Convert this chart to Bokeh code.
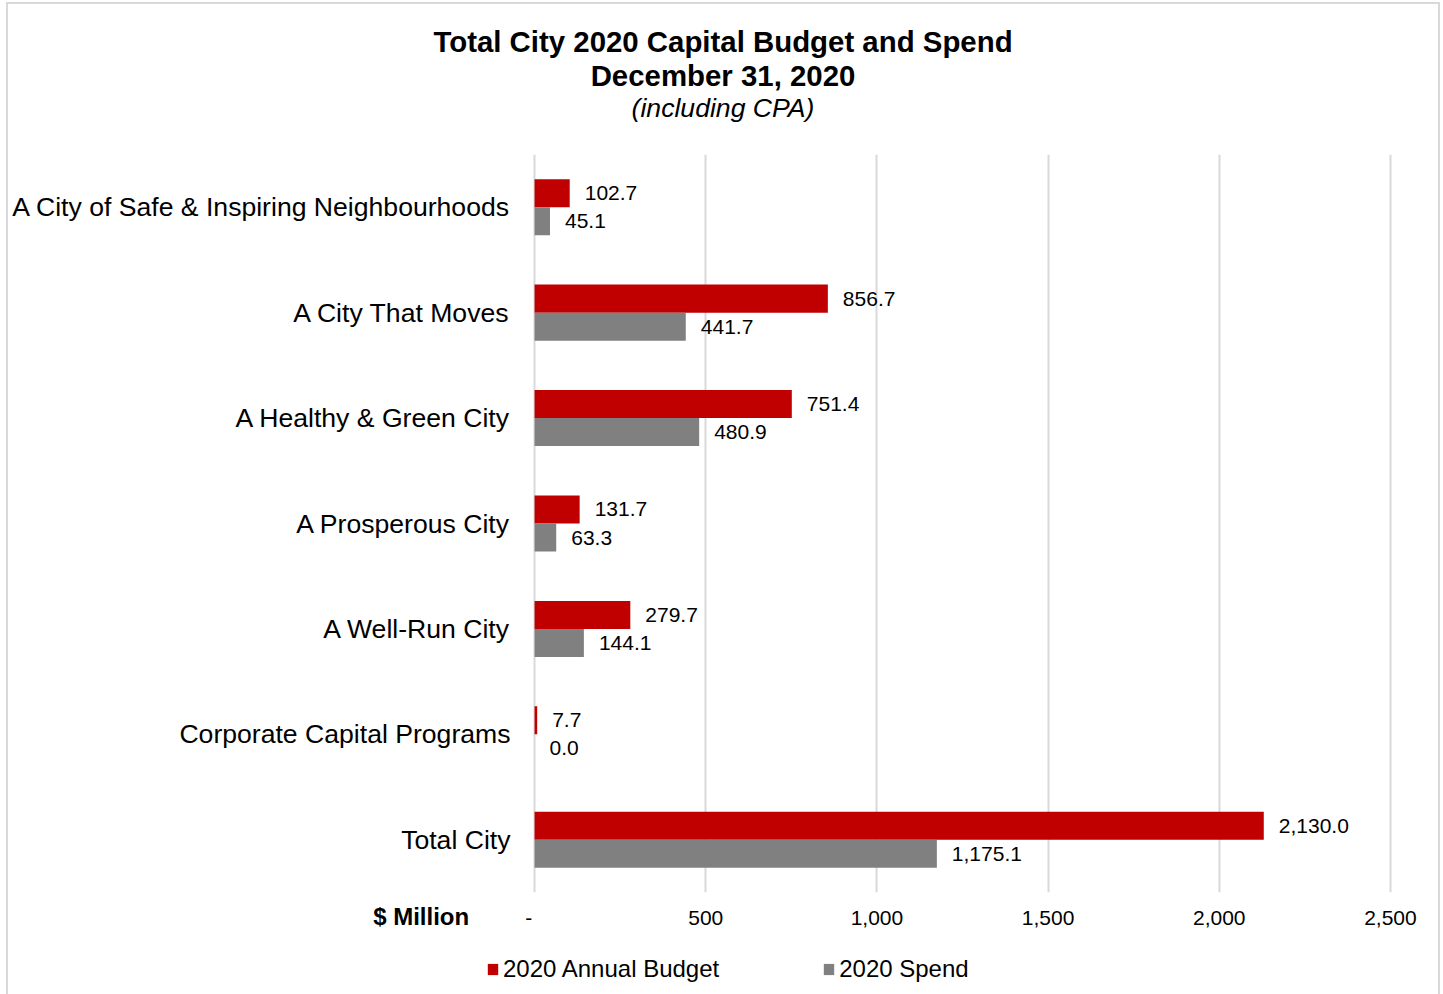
from bokeh.plotting import figure
from bokeh.models import (ColumnDataSource, FactorRange, Range1d, FixedTicker, Label,
                          Legend, LegendItem, LinearAxis)
from bokeh.layouts import column
from bokeh.transform import dodge
from bokeh.embed import file_html
from bokeh.resources import INLINE

categories = ["A City of Safe & Inspiring Neighbourhoods", "A City That Moves",
              "A Healthy & Green City", "A Prosperous City", "A Well-Run City",
              "Corporate Capital Programs", "Total City"]
budget = [102.7, 856.7, 751.4, 131.7, 279.7, 7.7, 2130.0]
spend = [45.1, 441.7, 480.9, 63.3, 144.1, 0.0, 1175.1]
x_ticks = [0, 500, 1000, 1500, 2000, 2500]
x_tick_labels = ["-", "500", "1,000", "1,500", "2,000", "2,500"]
series_names = ["2020 Annual Budget", "2020 Spend"]
title_lines = ["Total City 2020 Capital Budget and Spend", "December 31, 2020", "(including CPA)"]
unit_label = "$ Million"

FONT = "Liberation Sans"
RED = "#C00000"
GRAY = "#808080"
NB = "\u00a0"
W = 1430

def bare(fig):
    fig.outline_line_color = None
    fig.background_fill_color = "white"
    fig.border_fill_color = "white"
    fig.min_border_left = fig.min_border_right = fig.min_border_top = fig.min_border_bottom = 0
    return fig

# ---------------- title strip ----------------
TH = 140
pt = bare(figure(width=W, height=TH, output_backend="svg", toolbar_location=None,
                 x_range=Range1d(0, W), y_range=Range1d(TH, 0),
                 x_axis_location=None, y_axis_location=None, frame_align=False))
pt.grid.visible = False
tx = 714.5
pt.add_layout(Label(x=tx, y=37, text=title_lines[0], text_align="center", text_baseline="middle",
                    text_font=FONT, text_font_size="29.4px", text_font_style="bold", text_color="black"))
pt.add_layout(Label(x=tx, y=71, text=title_lines[1], text_align="center", text_baseline="middle",
                    text_font=FONT, text_font_size="29.4px", text_font_style="bold", text_color="black"))
pt.add_layout(Label(x=tx, y=103, text=title_lines[2], text_align="center", text_baseline="middle",
                    text_font=FONT, text_font_size="26.6px", text_font_style="italic", text_color="black"))

# ---------------- main chart ----------------
src = ColumnDataSource(dict(
    cat=categories, budget=budget, spend=spend,
    budget_lbl=[f"{v:,.1f}" for v in budget],
    spend_lbl=[f"{v:,.1f}" for v in spend],
))

MH = 800
# the x range is padded by a hair so that the grid lines at 0 and 2,500 are not lost at the frame edge
p = figure(width=W, height=MH, output_backend="svg", toolbar_location=None,
           y_range=FactorRange(factors=list(reversed(categories))),
           x_range=Range1d(-6, 2506))
p.outline_line_color = None
p.background_fill_color = "white"
p.border_fill_color = "white"
p.min_border_left = 524
p.min_border_right = 46
p.min_border_top = 10
p.min_border_bottom = 52

off = 0.133
hb = 0.266
r_budget = p.hbar(y=dodge("cat", off, range=p.y_range), left=0, right="budget", height=hb,
                  source=src, fill_color=RED, line_color=None)
r_spend = p.hbar(y=dodge("cat", -off, range=p.y_range), left=0, right="spend", height=hb,
                 source=src, fill_color=GRAY, line_color=None)

p.text(x="budget", y=dodge("cat", off, range=p.y_range), text="budget_lbl", source=src,
       x_offset=15, text_baseline="middle", text_align="left",
       text_font_size="21px", text_font={"value": FONT}, text_color="black")
p.text(x="spend", y=dodge("cat", -off, range=p.y_range), text="spend_lbl", source=src,
       x_offset=15, text_baseline="middle", text_align="left",
       text_font_size="21px", text_font={"value": FONT}, text_color="black")

# "-" at zero sits slightly left of its tick in the original
overrides = {t: l for t, l in zip(x_ticks, x_tick_labels)}
overrides[0] = x_tick_labels[0] + NB + NB
p.xaxis.ticker = FixedTicker(ticks=x_ticks)
p.xaxis.major_label_overrides = overrides
p.xaxis.axis_line_color = None
p.xaxis.major_tick_line_color = None
p.xaxis.minor_tick_line_color = None
p.xaxis.major_tick_out = 0
p.xaxis.minor_tick_out = 0
p.xaxis.major_label_text_font = FONT
p.xaxis.major_label_text_font_size = "21px"
p.xaxis.major_label_text_color = "black"
p.xaxis.major_label_standoff = 13

p.yaxis.axis_line_color = None
p.yaxis.major_tick_line_color = None
p.yaxis.major_tick_out = 0
p.yaxis.major_label_text_font = FONT
p.yaxis.major_label_text_font_size = "26.6px"
p.yaxis.major_label_text_color = "black"
p.yaxis.major_label_standoff = 22

p.xgrid.ticker = FixedTicker(ticks=x_ticks)
p.xgrid.grid_line_color = "#d9d9d9"
p.xgrid.grid_line_width = 2
p.ygrid.grid_line_color = None

# unit label: a second bottom axis, lifted onto the tick-label row; the label is
# padded on the right so that it ends left of the zero tick
unit_axis = LinearAxis(ticker=FixedTicker(ticks=[0]),
                       major_label_overrides={0: unit_label + NB * 34},
                       axis_line_color=None, major_tick_line_color=None,
                       minor_tick_line_color=None, major_tick_out=0, minor_tick_out=0,
                       major_label_standoff=-29, major_label_text_font=FONT,
                       major_label_text_font_size="24px", major_label_text_font_style="bold",
                       major_label_text_color="black")
p.add_layout(unit_axis, "below")

# ---------------- legend strip ----------------
LH = 50
pl = bare(figure(width=W, height=LH, output_backend="svg", toolbar_location=None,
                 x_range=Range1d(0, 1), y_range=Range1d(0, 1),
                 x_axis_location=None, y_axis_location=None, frame_align=False))
pl.grid.visible = False
# legend proxies (kept well outside the visible range of this strip)
lr1 = pl.hbar(y=[5], left=[5], right=[6], height=0.5, fill_color=RED, line_color=None)
lr2 = pl.hbar(y=[5], left=[5], right=[6], height=0.5, fill_color=GRAY, line_color=None)
legend = Legend(items=[LegendItem(label=series_names[0], renderers=[lr1]),
                       LegendItem(label=series_names[1], renderers=[lr2])],
                orientation="horizontal", location=(478, 11),
                glyph_width=13, glyph_height=14, label_standoff=4, spacing=103,
                padding=0, margin=0, border_line_color=None, background_fill_alpha=0,
                label_text_font=FONT, label_text_font_size="24px", label_text_color="black")
pl.add_layout(legend, "center")

layout = column(pt, p, pl, spacing=0,
                styles={"border": "2px solid #d9d9d9", "margin-left": "6px", "margin-top": "2px"})

open("out.html", "w").write(file_html(layout, INLINE))
